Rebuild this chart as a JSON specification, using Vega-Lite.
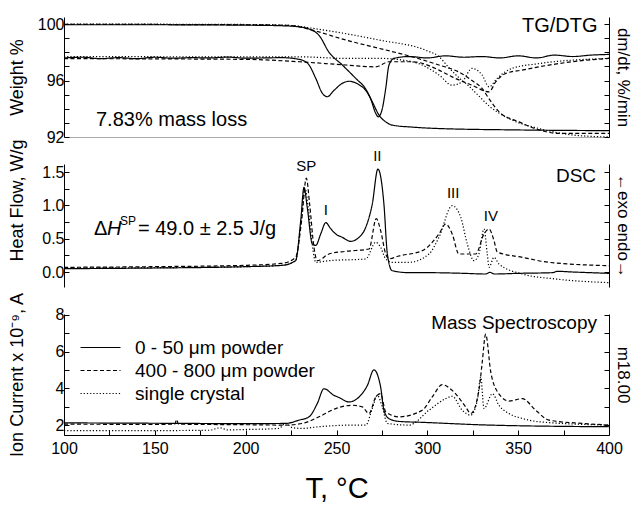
{
  "$schema": "https://vega.github.io/schema/vega-lite/v6.json",
  "padding": {"left": 7, "top": 16, "right": 0, "bottom": 0},
  "config": {
    "font": "Liberation Sans",
    "view": {"stroke": null},
    "axis": {"domainColor": "#000", "tickColor": "#000", "labelColor": "#000", "titleColor": "#000", "labelFontSize": 16, "titleFontSize": 18, "titleFontWeight": "normal", "grid": false, "tickSize": -5, "labelPadding": 5},
    "line": {"strokeWidth": 1.2, "color": "#000", "interpolate": "monotone"},
    "text": {"color": "#000"}
  },
  "spacing": 27,
  "bounds": "flush",
  "resolve": {"scale": {"strokeDash": "independent"}, "legend": {"strokeDash": "independent"}},
  "vconcat": [
    {
      "width": 545, "height": 120,
      "data": {"values": [
        {"curve":"TG","sample":"0 - 50 μm powder","T":100,"value":99.95},{"curve":"TG","sample":"0 - 50 μm powder","T":150,"value":99.95},{"curve":"TG","sample":"0 - 50 μm powder","T":200,"value":99.92},{"curve":"TG","sample":"0 - 50 μm powder","T":220,"value":99.88},{"curve":"TG","sample":"0 - 50 μm powder","T":229.4,"value":99.8},{"curve":"TG","sample":"0 - 50 μm powder","T":234.9,"value":99.65},{"curve":"TG","sample":"0 - 50 μm powder","T":240.4,"value":99.2},{"curve":"TG","sample":"0 - 50 μm powder","T":245.9,"value":98.0},{"curve":"TG","sample":"0 - 50 μm powder","T":253.2,"value":97.1},{"curve":"TG","sample":"0 - 50 μm powder","T":260.6,"value":96.15},{"curve":"TG","sample":"0 - 50 μm powder","T":266.1,"value":95.4},{"curve":"TG","sample":"0 - 50 μm powder","T":269.7,"value":94.5},{"curve":"TG","sample":"0 - 50 μm powder","T":273.4,"value":93.55},{"curve":"TG","sample":"0 - 50 μm powder","T":277.1,"value":93.07},{"curve":"TG","sample":"0 - 50 μm powder","T":280.7,"value":92.84},{"curve":"TG","sample":"0 - 50 μm powder","T":291.7,"value":92.7},{"curve":"TG","sample":"0 - 50 μm powder","T":306.4,"value":92.6},{"curve":"TG","sample":"0 - 50 μm powder","T":350,"value":92.5},{"curve":"TG","sample":"0 - 50 μm powder","T":400,"value":92.45},
        {"curve":"DTG","sample":"0 - 50 μm powder","T":100,"value":97.6},{"curve":"DTG","sample":"0 - 50 μm powder","T":110,"value":97.65},{"curve":"DTG","sample":"0 - 50 μm powder","T":120,"value":97.55},{"curve":"DTG","sample":"0 - 50 μm powder","T":130,"value":97.62},{"curve":"DTG","sample":"0 - 50 μm powder","T":140,"value":97.55},{"curve":"DTG","sample":"0 - 50 μm powder","T":150,"value":97.65},{"curve":"DTG","sample":"0 - 50 μm powder","T":160,"value":97.58},{"curve":"DTG","sample":"0 - 50 μm powder","T":170,"value":97.62},{"curve":"DTG","sample":"0 - 50 μm powder","T":180,"value":97.6},{"curve":"DTG","sample":"0 - 50 μm powder","T":190,"value":97.66},{"curve":"DTG","sample":"0 - 50 μm powder","T":200,"value":97.58},{"curve":"DTG","sample":"0 - 50 μm powder","T":210,"value":97.6},{"curve":"DTG","sample":"0 - 50 μm powder","T":220,"value":97.62},{"curve":"DTG","sample":"0 - 50 μm powder","T":229.4,"value":97.5},{"curve":"DTG","sample":"0 - 50 μm powder","T":231,"value":97.45},{"curve":"DTG","sample":"0 - 50 μm powder","T":234.9,"value":97.1},{"curve":"DTG","sample":"0 - 50 μm powder","T":238.6,"value":96.15},{"curve":"DTG","sample":"0 - 50 μm powder","T":242.2,"value":95.1},{"curve":"DTG","sample":"0 - 50 μm powder","T":244.9,"value":94.85},{"curve":"DTG","sample":"0 - 50 μm powder","T":248.6,"value":95.3},{"curve":"DTG","sample":"0 - 50 μm powder","T":253.2,"value":95.8},{"curve":"DTG","sample":"0 - 50 μm powder","T":256.9,"value":95.95},{"curve":"DTG","sample":"0 - 50 μm powder","T":262.4,"value":95.7},{"curve":"DTG","sample":"0 - 50 μm powder","T":266.1,"value":95.3},{"curve":"DTG","sample":"0 - 50 μm powder","T":268.8,"value":94.7},{"curve":"DTG","sample":"0 - 50 μm powder","T":271.6,"value":93.67},{"curve":"DTG","sample":"0 - 50 μm powder","T":273,"value":93.43},{"curve":"DTG","sample":"0 - 50 μm powder","T":275.2,"value":94.0},{"curve":"DTG","sample":"0 - 50 μm powder","T":277.1,"value":95.44},{"curve":"DTG","sample":"0 - 50 μm powder","T":278.9,"value":97.1},{"curve":"DTG","sample":"0 - 50 μm powder","T":281.7,"value":97.57},{"curve":"DTG","sample":"0 - 50 μm powder","T":290,"value":97.7},{"curve":"DTG","sample":"0 - 50 μm powder","T":300,"value":97.6},{"curve":"DTG","sample":"0 - 50 μm powder","T":310,"value":97.75},{"curve":"DTG","sample":"0 - 50 μm powder","T":320,"value":97.65},{"curve":"DTG","sample":"0 - 50 μm powder","T":330,"value":97.7},{"curve":"DTG","sample":"0 - 50 μm powder","T":340,"value":97.6},{"curve":"DTG","sample":"0 - 50 μm powder","T":350,"value":97.75},{"curve":"DTG","sample":"0 - 50 μm powder","T":360,"value":97.6},{"curve":"DTG","sample":"0 - 50 μm powder","T":370,"value":97.8},{"curve":"DTG","sample":"0 - 50 μm powder","T":380,"value":97.7},{"curve":"DTG","sample":"0 - 50 μm powder","T":390,"value":97.8},{"curve":"DTG","sample":"0 - 50 μm powder","T":400,"value":97.85},
        {"curve":"TG","sample":"400 - 800 μm powder","T":100,"value":99.98},{"curve":"TG","sample":"400 - 800 μm powder","T":200,"value":99.95},{"curve":"TG","sample":"400 - 800 μm powder","T":225,"value":99.9},{"curve":"TG","sample":"400 - 800 μm powder","T":236.7,"value":99.57},{"curve":"TG","sample":"400 - 800 μm powder","T":255.1,"value":98.87},{"curve":"TG","sample":"400 - 800 μm powder","T":273.4,"value":98.28},{"curve":"TG","sample":"400 - 800 μm powder","T":291.7,"value":97.68},{"curve":"TG","sample":"400 - 800 μm powder","T":306.4,"value":97.1},{"curve":"TG","sample":"400 - 800 μm powder","T":317.4,"value":96.6},{"curve":"TG","sample":"400 - 800 μm powder","T":324.6,"value":96.0},{"curve":"TG","sample":"400 - 800 μm powder","T":330.1,"value":95.44},{"curve":"TG","sample":"400 - 800 μm powder","T":334,"value":94.7},{"curve":"TG","sample":"400 - 800 μm powder","T":339.4,"value":93.8},{"curve":"TG","sample":"400 - 800 μm powder","T":350.5,"value":93.07},{"curve":"TG","sample":"400 - 800 μm powder","T":361.5,"value":92.5},{"curve":"TG","sample":"400 - 800 μm powder","T":372.5,"value":92.25},{"curve":"TG","sample":"400 - 800 μm powder","T":400,"value":92.25},
        {"curve":"DTG","sample":"400 - 800 μm powder","T":100,"value":97.55},{"curve":"DTG","sample":"400 - 800 μm powder","T":200,"value":97.5},{"curve":"DTG","sample":"400 - 800 μm powder","T":229.4,"value":97.33},{"curve":"DTG","sample":"400 - 800 μm powder","T":255.1,"value":97.1},{"curve":"DTG","sample":"400 - 800 μm powder","T":271.6,"value":96.97},{"curve":"DTG","sample":"400 - 800 μm powder","T":278.9,"value":97.33},{"curve":"DTG","sample":"400 - 800 μm powder","T":291.7,"value":97.33},{"curve":"DTG","sample":"400 - 800 μm powder","T":306.4,"value":96.74},{"curve":"DTG","sample":"400 - 800 μm powder","T":313.6,"value":96.26},{"curve":"DTG","sample":"400 - 800 μm powder","T":324.6,"value":95.67},{"curve":"DTG","sample":"400 - 800 μm powder","T":334,"value":95.2},{"curve":"DTG","sample":"400 - 800 μm powder","T":337.6,"value":95.9},{"curve":"DTG","sample":"400 - 800 μm powder","T":343.1,"value":96.5},{"curve":"DTG","sample":"400 - 800 μm powder","T":352.1,"value":96.74},{"curve":"DTG","sample":"400 - 800 μm powder","T":361.5,"value":96.97},{"curve":"DTG","sample":"400 - 800 μm powder","T":379.6,"value":97.33},{"curve":"DTG","sample":"400 - 800 μm powder","T":400,"value":97.57},
        {"curve":"TG","sample":"single crystal","T":100,"value":100.0},{"curve":"TG","sample":"single crystal","T":200,"value":99.97},{"curve":"TG","sample":"single crystal","T":225,"value":99.9},{"curve":"TG","sample":"single crystal","T":236.7,"value":99.7},{"curve":"TG","sample":"single crystal","T":273.4,"value":98.87},{"curve":"TG","sample":"single crystal","T":300,"value":98.1},{"curve":"TG","sample":"single crystal","T":306.4,"value":97.7},{"curve":"TG","sample":"single crystal","T":311.9,"value":96.9},{"curve":"TG","sample":"single crystal","T":317.4,"value":96.2},{"curve":"TG","sample":"single crystal","T":322.9,"value":95.6},{"curve":"TG","sample":"single crystal","T":328.4,"value":94.9},{"curve":"TG","sample":"single crystal","T":334,"value":94.2},{"curve":"TG","sample":"single crystal","T":339.4,"value":93.7},{"curve":"TG","sample":"single crystal","T":346.6,"value":93.2},{"curve":"TG","sample":"single crystal","T":361.5,"value":92.6},{"curve":"TG","sample":"single crystal","T":379.6,"value":92.15},{"curve":"TG","sample":"single crystal","T":400,"value":92.0},
        {"curve":"DTG","sample":"single crystal","T":100,"value":97.7},{"curve":"DTG","sample":"single crystal","T":200,"value":97.68},{"curve":"DTG","sample":"single crystal","T":229.4,"value":97.68},{"curve":"DTG","sample":"single crystal","T":255.1,"value":97.57},{"curve":"DTG","sample":"single crystal","T":273.4,"value":97.57},{"curve":"DTG","sample":"single crystal","T":291.7,"value":97.33},{"curve":"DTG","sample":"single crystal","T":306.4,"value":96.4},{"curve":"DTG","sample":"single crystal","T":313.6,"value":95.67},{"curve":"DTG","sample":"single crystal","T":319.1,"value":95.9},{"curve":"DTG","sample":"single crystal","T":324.6,"value":96.86},{"curve":"DTG","sample":"single crystal","T":330.1,"value":96.4},{"curve":"DTG","sample":"single crystal","T":334,"value":95.55},{"curve":"DTG","sample":"single crystal","T":338.4,"value":96.15},{"curve":"DTG","sample":"single crystal","T":346.6,"value":96.86},{"curve":"DTG","sample":"single crystal","T":361.5,"value":97.2},{"curve":"DTG","sample":"single crystal","T":400,"value":97.57}
      ]},
      "layer": [
        {
          "transform": [{"filter": "datum.curve === 'TG'"}],
          "mark": "line",
          "encoding": {
            "x": {"field": "T", "type": "quantitative", "scale": {"domain": [100, 400], "nice": false}, "axis": {"title": null, "labels": false, "ticks": false, "domainColor": "#aaaaaa"}},
            "y": {"field": "value", "type": "quantitative", "scale": {"domain": [92, 100.5], "nice": false, "zero": false}, "axis": {"title": "Weight  %", "values": [92,93,94,95,96,97,98,99,100], "labelExpr": "datum.value % 4 === 0 ? datum.label : ''", "minExtent": 32, "maxExtent": 32, "titlePadding": 6}},
            "strokeDash": {"field": "sample", "type": "nominal", "scale": {"domain": ["0 - 50 μm powder", "400 - 800 μm powder", "single crystal"], "range": [[1, 0], [4, 2.5], [1.2, 2]]}, "legend": null}
          }
        },
        {
          "transform": [{"filter": "datum.curve === 'DTG'"}],
          "mark": "line",
          "encoding": {
            "x": {"field": "T", "type": "quantitative", "scale": {"domain": [100, 400], "nice": false}},
            "y": {"field": "value", "type": "quantitative", "scale": {"domain": [92, 100.5], "nice": false, "zero": false}, "axis": {"orient": "right", "title": "dm/dt, %/min", "titleFontSize": 17, "labels": false, "values": [92,93,94,95,96,97,98,99,100], "minExtent": 0, "maxExtent": 0, "titlePadding": 4}},
            "strokeDash": {"field": "sample", "type": "nominal", "scale": {"domain": ["0 - 50 μm powder", "400 - 800 μm powder", "single crystal"], "range": [[1, 0], [4, 2.5], [1.2, 2]]}, "legend": null}
          }
        },
        {
          "data": {"values": [{"label": "TG/DTG", "T": 352.1, "y": 99.85}, {"label": "7.83% mass loss", "T": 117.6, "y": 93.2}]},
          "mark": {"type": "text", "align": "left", "baseline": "middle", "fontSize": 20},
          "encoding": {
            "x": {"field": "T", "type": "quantitative", "scale": {"domain": [100, 400], "nice": false}},
            "y": {"field": "y", "type": "quantitative", "scale": {"domain": [92, 100.5], "nice": false, "zero": false}, "axis": null},
            "text": {"field": "label"}
          }
        }
      ],
      "resolve": {"scale": {"y": "independent"}}
    },
    {
      "width": 545, "height": 123,
      "data": {"values": [
        {"sample":"0 - 50 μm powder","T":100,"value":0.05},{"sample":"0 - 50 μm powder","T":150,"value":0.06},{"sample":"0 - 50 μm powder","T":200,"value":0.08},{"sample":"0 - 50 μm powder","T":220,"value":0.1},{"sample":"0 - 50 μm powder","T":227.5,"value":0.17},{"sample":"0 - 50 μm powder","T":230.3,"value":0.77},{"sample":"0 - 50 μm powder","T":232.1,"value":1.27},{"sample":"0 - 50 μm powder","T":233.9,"value":0.97},{"sample":"0 - 50 μm powder","T":236.7,"value":0.42},{"sample":"0 - 50 μm powder","T":238.6,"value":0.4},{"sample":"0 - 50 μm powder","T":241.3,"value":0.57},{"sample":"0 - 50 μm powder","T":244.1,"value":0.74},{"sample":"0 - 50 μm powder","T":246.8,"value":0.65},{"sample":"0 - 50 μm powder","T":249.6,"value":0.57},{"sample":"0 - 50 μm powder","T":253.2,"value":0.52},{"sample":"0 - 50 μm powder","T":257.8,"value":0.46},{"sample":"0 - 50 μm powder","T":262.4,"value":0.52},{"sample":"0 - 50 μm powder","T":266.1,"value":0.67},{"sample":"0 - 50 μm powder","T":269.7,"value":1.02},{"sample":"0 - 50 μm powder","T":272.8,"value":1.545},{"sample":"0 - 50 μm powder","T":276.1,"value":1.02},{"sample":"0 - 50 μm powder","T":278,"value":0.27},{"sample":"0 - 50 μm powder","T":280.6,"value":0.02},{"sample":"0 - 50 μm powder","T":290,"value":-0.01},{"sample":"0 - 50 μm powder","T":300,"value":-0.01},{"sample":"0 - 50 μm powder","T":320,"value":-0.02},{"sample":"0 - 50 μm powder","T":332,"value":-0.03},{"sample":"0 - 50 μm powder","T":334.5,"value":-0.005},{"sample":"0 - 50 μm powder","T":337,"value":-0.03},{"sample":"0 - 50 μm powder","T":350,"value":-0.02},{"sample":"0 - 50 μm powder","T":369,"value":-0.01},{"sample":"0 - 50 μm powder","T":371.5,"value":0.01},{"sample":"0 - 50 μm powder","T":380,"value":0.0},{"sample":"0 - 50 μm powder","T":400,"value":-0.02},
        {"sample":"400 - 800 μm powder","T":100,"value":0.07},{"sample":"400 - 800 μm powder","T":150,"value":0.08},{"sample":"400 - 800 μm powder","T":200,"value":0.1},{"sample":"400 - 800 μm powder","T":220,"value":0.13},{"sample":"400 - 800 μm powder","T":227.5,"value":0.22},{"sample":"400 - 800 μm powder","T":230.8,"value":0.77},{"sample":"400 - 800 μm powder","T":233.4,"value":1.41},{"sample":"400 - 800 μm powder","T":235.2,"value":1.02},{"sample":"400 - 800 μm powder","T":237.6,"value":0.37},{"sample":"400 - 800 μm powder","T":239.4,"value":0.17},{"sample":"400 - 800 μm powder","T":245.9,"value":0.27},{"sample":"400 - 800 μm powder","T":255.1,"value":0.31},{"sample":"400 - 800 μm powder","T":267.9,"value":0.345},{"sample":"400 - 800 μm powder","T":271.9,"value":0.8},{"sample":"400 - 800 μm powder","T":274.3,"value":0.62},{"sample":"400 - 800 μm powder","T":277.1,"value":0.27},{"sample":"400 - 800 μm powder","T":278.9,"value":0.2},{"sample":"400 - 800 μm powder","T":284.4,"value":0.24},{"sample":"400 - 800 μm powder","T":297.2,"value":0.32},{"sample":"400 - 800 μm powder","T":306.4,"value":0.57},{"sample":"400 - 800 μm powder","T":310.1,"value":0.72},{"sample":"400 - 800 μm powder","T":313.7,"value":0.57},{"sample":"400 - 800 μm powder","T":317.4,"value":0.27},{"sample":"400 - 800 μm powder","T":326.6,"value":0.27},{"sample":"400 - 800 μm powder","T":331.2,"value":0.57},{"sample":"400 - 800 μm powder","T":334,"value":0.645},{"sample":"400 - 800 μm powder","T":336.7,"value":0.47},{"sample":"400 - 800 μm powder","T":338.5,"value":0.3},{"sample":"400 - 800 μm powder","T":352.3,"value":0.22},{"sample":"400 - 800 μm powder","T":367,"value":0.145},{"sample":"400 - 800 μm powder","T":400,"value":0.095},
        {"sample":"single crystal","T":100,"value":0.06},{"sample":"single crystal","T":150,"value":0.065},{"sample":"single crystal","T":200,"value":0.08},{"sample":"single crystal","T":220,"value":0.1},{"sample":"single crystal","T":227.5,"value":0.17},{"sample":"single crystal","T":230.5,"value":0.75},{"sample":"single crystal","T":232.7,"value":1.25},{"sample":"single crystal","T":234.5,"value":0.95},{"sample":"single crystal","T":236.7,"value":0.4},{"sample":"single crystal","T":238.6,"value":0.145},{"sample":"single crystal","T":245.9,"value":0.17},{"sample":"single crystal","T":266.1,"value":0.195},{"sample":"single crystal","T":271.6,"value":0.445},{"sample":"single crystal","T":274.3,"value":0.37},{"sample":"single crystal","T":277,"value":0.2},{"sample":"single crystal","T":280.7,"value":0.145},{"sample":"single crystal","T":289.9,"value":0.145},{"sample":"single crystal","T":300.9,"value":0.27},{"sample":"single crystal","T":306.4,"value":0.52},{"sample":"single crystal","T":313.7,"value":0.995},{"sample":"single crystal","T":318.4,"value":0.82},{"sample":"single crystal","T":322,"value":0.42},{"sample":"single crystal","T":325.7,"value":0.17},{"sample":"single crystal","T":328.4,"value":0.27},{"sample":"single crystal","T":331.2,"value":0.645},{"sample":"single crystal","T":333,"value":0.27},{"sample":"single crystal","T":334,"value":0.07},{"sample":"single crystal","T":336.7,"value":0.22},{"sample":"single crystal","T":339.4,"value":0.12},{"sample":"single crystal","T":352.3,"value":-0.03},{"sample":"single crystal","T":370.7,"value":-0.105},{"sample":"single crystal","T":400,"value":-0.16}
      ]},
      "layer": [
        {
          "mark": "line",
          "encoding": {
            "x": {"field": "T", "type": "quantitative", "scale": {"domain": [100, 400], "nice": false}, "axis": null},
            "y": {"field": "value", "type": "quantitative", "scale": {"domain": [-0.225, 1.62], "nice": false, "zero": false}, "axis": {"title": "Heat Flow, W/g", "values": [0, 0.25, 0.5, 0.75, 1, 1.25, 1.5], "format": ".1f", "labelExpr": "(datum.value * 2) % 1 === 0 ? datum.label : ''", "minExtent": 32, "maxExtent": 32, "titlePadding": 6, "titleY": 36}},
            "strokeDash": {"field": "sample", "type": "nominal", "scale": {"domain": ["0 - 50 μm powder", "400 - 800 μm powder", "single crystal"], "range": [[1, 0], [4, 2.5], [1.2, 2]]}, "legend": null}
          }
        },
        {
          "data": {"values": [{"label": "Δ", "T": 116.5, "y": 0.645}, {"label": "= 49.0 ± 2.5 J/g", "T": 140.7, "y": 0.645}]},
          "mark": {"type": "text", "align": "left", "baseline": "middle", "fontSize": 20},
          "encoding": {
            "x": {"field": "T", "type": "quantitative", "scale": {"domain": [100, 400], "nice": false}},
            "y": {"field": "y", "type": "quantitative", "scale": {"domain": [-0.225, 1.62], "nice": false, "zero": false}, "axis": {"orient": "right", "title": "←exo  endo→", "titleFontSize": 17, "labels": false, "values": [0, 0.25, 0.5, 0.75, 1, 1.25, 1.5], "minExtent": 0, "maxExtent": 0, "titlePadding": 4}},
            "text": {"field": "label"}
          }
        },
        {
          "data": {"values": [{"label": "H", "T": 123.7, "y": 0.645}]},
          "mark": {"type": "text", "align": "left", "baseline": "middle", "fontSize": 20, "fontStyle": "italic"},
          "encoding": {
            "x": {"field": "T", "type": "quantitative", "scale": {"domain": [100, 400], "nice": false}},
            "y": {"field": "y", "type": "quantitative", "scale": {"domain": [-0.225, 1.62], "nice": false, "zero": false}, "axis": null},
            "text": {"field": "label"}
          }
        },
        {
          "data": {"values": [{"label": "SP", "T": 130.8, "y": 0.77}]},
          "mark": {"type": "text", "align": "left", "baseline": "middle", "fontSize": 12},
          "encoding": {
            "x": {"field": "T", "type": "quantitative", "scale": {"domain": [100, 400], "nice": false}},
            "y": {"field": "y", "type": "quantitative", "scale": {"domain": [-0.225, 1.62], "nice": false, "zero": false}, "axis": null},
            "text": {"field": "label"}
          }
        },
        {
          "data": {"values": [{"label": "SP", "T": 233.4, "y": 1.585}, {"label": "I", "T": 244.1, "y": 0.93}, {"label": "II", "T": 272.5, "y": 1.745}, {"label": "III", "T": 314.2, "y": 1.19}, {"label": "IV", "T": 335, "y": 0.835}]},
          "mark": {"type": "text", "align": "center", "baseline": "middle", "fontSize": 15},
          "encoding": {
            "x": {"field": "T", "type": "quantitative", "scale": {"domain": [100, 400], "nice": false}},
            "y": {"field": "y", "type": "quantitative", "scale": {"domain": [-0.225, 1.62], "nice": false, "zero": false}, "axis": null},
            "text": {"field": "label"}
          }
        },
        {
          "data": {"values": [{"label": "DSC", "T": 370.8, "y": 1.44}]},
          "mark": {"type": "text", "align": "left", "baseline": "middle", "fontSize": 19},
          "encoding": {
            "x": {"field": "T", "type": "quantitative", "scale": {"domain": [100, 400], "nice": false}},
            "y": {"field": "y", "type": "quantitative", "scale": {"domain": [-0.225, 1.62], "nice": false, "zero": false}, "axis": null},
            "text": {"field": "label"}
          }
        }
      ],
      "resolve": {"scale": {"y": "independent"}}
    },
    {
      "width": 545, "height": 121,
      "data": {"values": [
        {"sample":"0 - 50 μm powder","T":100,"value":2.12},{"sample":"0 - 50 μm powder","T":150,"value":2.1},{"sample":"0 - 50 μm powder","T":200,"value":2.08},{"sample":"0 - 50 μm powder","T":222,"value":2.09},{"sample":"0 - 50 μm powder","T":229.4,"value":2.27},{"sample":"0 - 50 μm powder","T":234.9,"value":2.45},{"sample":"0 - 50 μm powder","T":239.4,"value":3.17},{"sample":"0 - 50 μm powder","T":243.1,"value":3.98},{"sample":"0 - 50 μm powder","T":248.6,"value":3.62},{"sample":"0 - 50 μm powder","T":251.4,"value":3.5},{"sample":"0 - 50 μm powder","T":256.9,"value":3.26},{"sample":"0 - 50 μm powder","T":262.4,"value":3.53},{"sample":"0 - 50 μm powder","T":267,"value":4.16},{"sample":"0 - 50 μm powder","T":270.6,"value":5.01},{"sample":"0 - 50 μm powder","T":274.3,"value":4.07},{"sample":"0 - 50 μm powder","T":276.1,"value":2.81},{"sample":"0 - 50 μm powder","T":278.9,"value":2.35},{"sample":"0 - 50 μm powder","T":284.4,"value":2.2},{"sample":"0 - 50 μm powder","T":297.2,"value":2.15},{"sample":"0 - 50 μm powder","T":334,"value":2.0},{"sample":"0 - 50 μm powder","T":400,"value":1.91},
        {"sample":"400 - 800 μm powder","T":100,"value":2.05},{"sample":"400 - 800 μm powder","T":150,"value":2.04},{"sample":"400 - 800 μm powder","T":161,"value":2.05},{"sample":"400 - 800 μm powder","T":162,"value":2.3},{"sample":"400 - 800 μm powder","T":163,"value":2.05},{"sample":"400 - 800 μm powder","T":200,"value":2.02},{"sample":"400 - 800 μm powder","T":222,"value":2.0},{"sample":"400 - 800 μm powder","T":231.2,"value":2.09},{"sample":"400 - 800 μm powder","T":240.4,"value":2.45},{"sample":"400 - 800 μm powder","T":249.6,"value":2.9},{"sample":"400 - 800 μm powder","T":258.7,"value":3.08},{"sample":"400 - 800 μm powder","T":264.2,"value":2.99},{"sample":"400 - 800 μm powder","T":267.9,"value":2.63},{"sample":"400 - 800 μm powder","T":271.6,"value":3.53},{"sample":"400 - 800 μm powder","T":274.3,"value":3.71},{"sample":"400 - 800 μm powder","T":277.1,"value":2.72},{"sample":"400 - 800 μm powder","T":284.4,"value":2.45},{"sample":"400 - 800 μm powder","T":297.2,"value":2.81},{"sample":"400 - 800 μm powder","T":302.7,"value":3.53},{"sample":"400 - 800 μm powder","T":308.2,"value":4.2},{"sample":"400 - 800 μm powder","T":313.7,"value":3.89},{"sample":"400 - 800 μm powder","T":321.1,"value":2.99},{"sample":"400 - 800 μm powder","T":323.9,"value":2.63},{"sample":"400 - 800 μm powder","T":328.4,"value":3.89},{"sample":"400 - 800 μm powder","T":330.2,"value":5.4},{"sample":"400 - 800 μm powder","T":332.1,"value":6.95},{"sample":"400 - 800 μm powder","T":334.9,"value":4.9},{"sample":"400 - 800 μm powder","T":339.4,"value":3.7},{"sample":"400 - 800 μm powder","T":344.9,"value":3.31},{"sample":"400 - 800 μm powder","T":352.3,"value":3.44},{"sample":"400 - 800 μm powder","T":359.6,"value":2.81},{"sample":"400 - 800 μm powder","T":367,"value":2.27},{"sample":"400 - 800 μm powder","T":385.3,"value":2.09},{"sample":"400 - 800 μm powder","T":400,"value":2.0},
        {"sample":"single crystal","T":100,"value":1.7},{"sample":"single crystal","T":150,"value":1.7},{"sample":"single crystal","T":180,"value":1.72},{"sample":"single crystal","T":186,"value":1.85},{"sample":"single crystal","T":190,"value":1.74},{"sample":"single crystal","T":200,"value":1.76},{"sample":"single crystal","T":215,"value":1.8},{"sample":"single crystal","T":218.3,"value":1.82},{"sample":"single crystal","T":222,"value":2.09},{"sample":"single crystal","T":226,"value":1.85},{"sample":"single crystal","T":231.2,"value":1.82},{"sample":"single crystal","T":240.4,"value":1.91},{"sample":"single crystal","T":258.7,"value":2.0},{"sample":"single crystal","T":266.1,"value":2.0},{"sample":"single crystal","T":269.7,"value":2.9},{"sample":"single crystal","T":272.5,"value":3.62},{"sample":"single crystal","T":275.2,"value":2.99},{"sample":"single crystal","T":278,"value":2.09},{"sample":"single crystal","T":289.9,"value":2.0},{"sample":"single crystal","T":300.9,"value":2.81},{"sample":"single crystal","T":310.1,"value":3.44},{"sample":"single crystal","T":313.7,"value":3.57},{"sample":"single crystal","T":319.2,"value":2.81},{"sample":"single crystal","T":323.9,"value":2.54},{"sample":"single crystal","T":327.5,"value":3.35},{"sample":"single crystal","T":329.4,"value":4.61},{"sample":"single crystal","T":331.2,"value":2.9},{"sample":"single crystal","T":335.8,"value":3.71},{"sample":"single crystal","T":339.4,"value":3.08},{"sample":"single crystal","T":344.9,"value":2.63},{"sample":"single crystal","T":352.3,"value":2.36},{"sample":"single crystal","T":361.5,"value":2.18},{"sample":"single crystal","T":400,"value":2.0}
      ]},
      "layer": [
        {
          "mark": "line",
          "encoding": {
            "x": {"field": "T", "type": "quantitative", "scale": {"domain": [100, 400], "nice": false}, "axis": {"title": "T, °C", "titleFontSize": 29, "titlePadding": 18, "values": [100,125,150,175,200,225,250,275,300,325,350,375,400], "labelExpr": "datum.value % 50 === 0 ? datum.label : ''", "labelPadding": 10, "labelFlush": false}},
            "y": {"field": "value", "type": "quantitative", "scale": {"domain": [1.46, 8.05], "nice": false, "zero": false}, "axis": {"title": "Ion Current x 10⁻⁹, A", "values": [2,3,4,5,6,7,8], "labelExpr": "datum.value % 2 === 0 ? datum.label : ''", "minExtent": 32, "maxExtent": 32, "titlePadding": 6}},
            "strokeDash": {"field": "sample", "type": "nominal", "scale": {"domain": ["0 - 50 μm powder", "400 - 800 μm powder", "single crystal"], "range": [[1, 0], [4, 2.5], [1.2, 2]]},
              "legend": {"title": null, "orient": "none", "legendX": 27, "legendY": 24, "symbolType": "M-4,0H4", "symbolSize": 100, "symbolStrokeWidth": 1.2, "symbolStrokeColor": "#000", "labelFontSize": 19, "labelOffset": 25, "labelLimit": 400, "rowPadding": 3, "padding": 0}}
          }
        },
        {
          "data": {"values": [{"label": "Mass Spectroscopy", "T": 393.4, "y": 7.58}]},
          "mark": {"type": "text", "align": "right", "baseline": "middle", "fontSize": 19},
          "encoding": {
            "x": {"field": "T", "type": "quantitative", "scale": {"domain": [100, 400], "nice": false}},
            "y": {"field": "y", "type": "quantitative", "scale": {"domain": [1.46, 8.05], "nice": false, "zero": false}, "axis": {"orient": "right", "title": "m18.00", "titleFontSize": 17, "labels": false, "values": [2,3,4,5,6,7,8], "minExtent": 0, "maxExtent": 0, "titlePadding": 4}},
            "text": {"field": "label"}
          }
        }
      ],
      "resolve": {"scale": {"y": "independent"}}
    }
  ]
}
